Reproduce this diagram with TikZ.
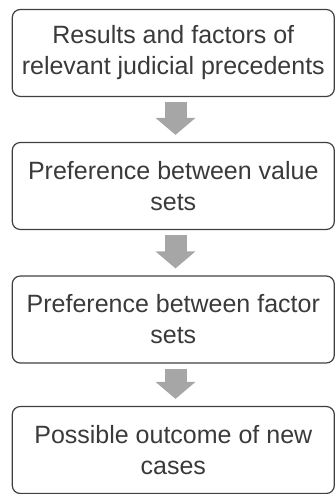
\documentclass[tikz,border=0pt]{standalone}
\usepackage{fontspec}
\setmainfont{Liberation Sans}
\usetikzlibrary{arrows.meta}
\definecolor{boxline}{RGB}{64,64,64}
\definecolor{boxtext}{RGB}{58,58,58}
\definecolor{flowgray}{RGB}{166,166,166}
\begin{document}
\begin{tikzpicture}[
    x=1pt, y=-1pt,
    every node/.style={inner sep=1pt},
    stepbox/.style={draw=boxline, line width=1.2pt, rounded corners=8pt,
        minimum width=322pt, minimum height=87pt, align=center,
        text=boxtext, font=\fontsize{25}{31}\selectfont},
    flow/.style={draw=flowgray, line width=22pt,
        -{Triangle[width=39pt,length=17pt]},
        shorten <=5pt, shorten >=7pt}
]
\useasboundingbox (0,0) rectangle (336,494);

% Steps
\node[stepbox] (s1) at (173.3,53) {Results and factors of\\relevant judicial precedents};
\node[stepbox] (s2) at (173.3,186) {Preference between value\\sets};
\node[stepbox] (s3) at (173.3,319.5) {Preference between factor\\sets};
\node[stepbox] (s4) at (173.3,450) {Possible outcome of new\\cases};

% Arrows between steps
\draw[flow] ([xshift=2.2pt]s1.south) -- ([xshift=2.2pt]s2.north);
\draw[flow] ([xshift=2.2pt]s2.south) -- ([xshift=2.2pt]s3.north);
\draw[flow] ([xshift=2.2pt]s3.south) -- ([xshift=2.2pt]s4.north);
\end{tikzpicture}
\end{document}
